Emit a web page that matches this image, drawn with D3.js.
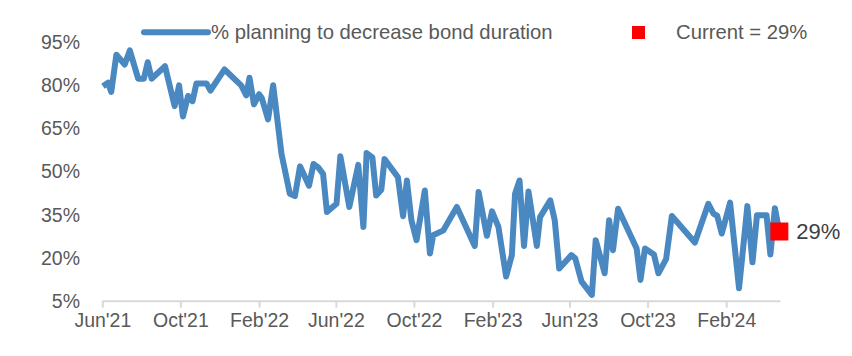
<!DOCTYPE html>
<html><head><meta charset="utf-8">
<script src="https://cdn.jsdelivr.net/npm/d3@7"></script>
<style>
html,body{margin:0;padding:0;background:#fff;}
svg text{font-family:"Liberation Sans",Arial,sans-serif;fill:#595959;}
</style></head>
<body><svg id="chart" width="852" height="356"></svg>
<script>
const dates = ["2021-06-02","2021-06-10","2021-06-15","2021-06-23","2021-07-06","2021-07-14","2021-07-27","2021-08-05","2021-08-11","2021-08-17",
"2021-09-07","2021-09-22","2021-09-29","2021-10-05","2021-10-13","2021-10-20","2021-10-26","2021-11-11","2021-11-17","2021-12-09",
"2022-01-04","2022-01-12","2022-01-17","2022-01-24","2022-02-01","2022-02-05","2022-02-15","2022-02-23","2022-03-08","2022-03-21",
"2022-03-29","2022-04-06","2022-04-20","2022-04-27","2022-05-04","2022-05-12","2022-05-18","2022-06-02","2022-06-08","2022-06-22",
"2022-07-06","2022-07-14","2022-07-19","2022-07-28","2022-08-03","2022-08-11","2022-08-16","2022-09-06","2022-09-14","2022-09-20",
"2022-09-27","2022-10-05","2022-10-18","2022-10-26","2022-10-31","2022-11-16","2022-12-07","2023-01-04","2023-01-10","2023-01-23",
"2023-01-31","2023-02-10","2023-02-22","2023-03-03","2023-03-08","2023-03-15","2023-03-22","2023-03-29","2023-04-11","2023-04-16",
"2023-05-02","2023-05-09","2023-05-16","2023-06-04","2023-06-10","2023-06-20","2023-07-06","2023-07-12","2023-07-26","2023-08-02",
"2023-08-08","2023-08-16","2023-09-14","2023-09-20","2023-09-27","2023-10-11","2023-10-18","2023-10-30","2023-11-08","2023-12-14",
"2024-01-04","2024-01-12","2024-01-18","2024-01-25","2024-02-07","2024-02-21","2024-03-05","2024-03-13","2024-03-20","2024-04-04",
"2024-04-10","2024-04-17","2024-04-24"];
const pctDecrease = [79.4,80.6,77.4,90.3,86.9,91.8,82,82,87.7,82,
86.3,72.5,79.7,68.9,76,74.2,80.3,80.3,77.9,85.2,
79.7,76.2,82.3,73.1,76.6,75.4,67.9,79.7,55.9,42.1,
41.3,51.6,44.9,52.4,51.3,49,35.8,38.6,55.1,37.5,
52.1,30.6,56.2,54.7,41.5,43.5,54.1,47.8,34.3,46.7,
33,26,43.2,21.4,27.7,29.4,37.5,24,42.7,27.5,
36,30.6,13.4,20.8,42.1,46.7,24,42.9,24,34,
39.8,32.9,16.2,20.8,19.7,11.6,7,26,14.5,32.9,
22.5,36.9,23.1,12.2,23.1,21,14.5,19.4,34.4,25.2,
38.6,35.2,34.4,28.3,39,9.3,37.8,18.3,34.6,34.6,
21,37.1,29];
const yTicks = [5,20,35,50,65,80,95];
const xTickDates = ["2021-06-01","2021-10-01","2022-02-01","2022-06-01","2022-10-01","2023-02-01","2023-06-01","2023-10-01","2024-02-01"];
const xTickLabels = ["Jun'21","Oct'21","Feb'22","Jun'22","Oct'22","Feb'23","Jun'23","Oct'23","Feb'24"];
const seriesName = "% planning to decrease bond duration";
const currentValue = 29;
const currentLabel = "Current = 29%";

const parse = d3.timeParse("%Y-%m-%d");
const data = dates.map((d,i)=>({date:parse(d), v:pctDecrease[i]}));
const svg = d3.select("#chart");
const lineColor = "#4a88c1";
const x = d3.scaleTime().domain([parse("2021-06-01"), parse("2024-04-25")]).range([102.3, 780]);
const y = d3.scaleLinear().domain([5,95]).range([300.7, 41.2]);

// y axis labels
const yAxis = d3.axisLeft(y).tickValues(yTicks).tickFormat(d=>d+"%").tickSize(0).tickPadding(0);
const gy = svg.append("g").attr("transform","translate(80,0)").call(yAxis);
gy.select(".domain").remove();
gy.selectAll("text").attr("font-size","19.5px").style("fill","#595959").attr("font-family","Liberation Sans, Arial, sans-serif").attr("dy","0.35em");

// x axis
const xAxis = d3.axisBottom(x).tickValues(xTickDates.map(parse)).tickFormat((d,i)=>xTickLabels[i]).tickSizeInner(7).tickSizeOuter(0).tickPadding(5);
const gx = svg.append("g").attr("transform",`translate(0,${y(5)})`).call(xAxis);
gx.select(".domain").attr("stroke","#d9d9d9").attr("stroke-width",2);
gx.selectAll(".tick line").attr("stroke","#d9d9d9").attr("stroke-width",2);
gx.selectAll("text").attr("font-size","19.5px").style("fill","#595959").attr("font-family","Liberation Sans, Arial, sans-serif");

// line
const line = d3.line().x(d=>x(d.date)).y(d=>y(d.v));
svg.append("path").datum(data).attr("d",line).attr("fill","none").attr("stroke",lineColor)
  .attr("stroke-width",6).attr("stroke-linejoin","round").attr("stroke-linecap","butt");

// current marker
const last = data[data.length-1];
svg.append("rect").attr("x",x(last.date)-9).attr("y",y(currentValue)-9).attr("width",18).attr("height",18).attr("fill","#ff0000");
svg.append("text").attr("x",x(last.date)+17).attr("y",y(currentValue)).attr("dy","0.35em")
  .attr("font-size","22px").style("fill","#404040").text(currentValue+"%");

// legend
const lg = svg.append("g");
lg.append("line").attr("x1",144).attr("x2",208).attr("y1",32.3).attr("y2",32.3).attr("stroke",lineColor).attr("stroke-width",6).attr("stroke-linecap","round");
lg.append("text").attr("x",211).attr("y",32.3).attr("dy","0.35em").attr("font-size","20.3px").text(seriesName);
lg.append("rect").attr("x",632).attr("y",26).attr("width",13).attr("height",13).attr("fill","#ff0000");
lg.append("text").attr("x",676).attr("y",32.3).attr("dy","0.35em").attr("font-size","20.3px").text(currentLabel);
</script></body></html>
